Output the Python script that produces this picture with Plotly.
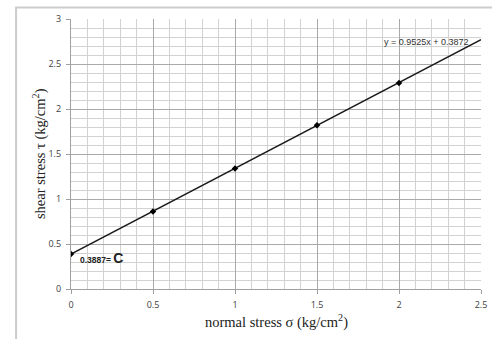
import plotly.graph_objects as go

# data
sigma = [0, 0.5, 1, 1.5, 2]
tau = [0.3887, 0.86, 1.34, 1.82, 2.29]
trend_x = [0, 2.5]
trend_y = [0.3872, 2.77]
x_ticks = [0, 0.5, 1, 1.5, 2, 2.5]
y_ticks = [0, 0.5, 1, 1.5, 2, 2.5, 3]
eq_text = "y = 0.9525x + 0.3872"

fig = go.Figure()
fig.add_trace(go.Scatter(x=trend_x, y=trend_y, mode="lines",
                         line=dict(color="#1a1a1a", width=1.4),
                         showlegend=False, hoverinfo="skip"))
fig.add_trace(go.Scatter(x=sigma, y=tau, mode="markers",
                         marker=dict(symbol="diamond", size=5, color="#000000"),
                         showlegend=False))

tickfont = dict(family="Open Sans", size=9, color="#404040")
axis_common = dict(showgrid=True, gridcolor="#a9a9a9", gridwidth=1.2,
                   zeroline=False, showline=True, linecolor="#a0a0a0", linewidth=1.2,
                   ticks="outside", ticklen=4, tickcolor="#a0a0a0", tickfont=tickfont,
                   ticklabelstandoff=3)
fig.update_xaxes(range=[0, 2.5], tickvals=x_ticks, ticktext=[f"{v:g}" for v in x_ticks],
                 minor=dict(dtick=0.1, tick0=0, showgrid=True, gridcolor="#d2d2d2", gridwidth=1),
                 **axis_common)
fig.update_yaxes(range=[0, 3], tickvals=y_ticks, ticktext=[f"{v:g}" for v in y_ticks],
                 minor=dict(dtick=0.1, tick0=0, showgrid=True, gridcolor="#d2d2d2", gridwidth=1),
                 **axis_common)

titlefont = dict(family="Liberation Serif", size=14.5, color="#222222")
fig.update_layout(
    width=492, height=339,
    margin=dict(l=71, r=11, t=19, b=50, autoexpand=False),
    paper_bgcolor="white", plot_bgcolor="white",
    shapes=[dict(type="rect", xref="paper", yref="paper",
                 x0=-0.134, y0=-0.4, x1=1.2, y1=1.0 + 11.5 / 270,
                 line=dict(color="#cccccc", width=2), layer="below")],
    annotations=[
        dict(text="normal stress σ (kg/cm<sup>2</sup>)", xref="paper", yref="paper",
             x=0.5, y=-0.122, xanchor="center", yanchor="middle", showarrow=False,
             font=titlefont),
        dict(text="shear stress τ (kg/cm<sup>2</sup>)", xref="paper", yref="paper",
             x=-0.078, y=0.5, xanchor="center", yanchor="middle", showarrow=False,
             textangle=-90, font=titlefont),
        dict(text=eq_text, x=2.44, y=2.74, xref="x", yref="y", xanchor="right",
             yanchor="middle", showarrow=False,
             font=dict(family="Liberation Sans", size=9, color="#333333")),
        dict(text="<b>0.3887=</b> <b><span style='font-size:14px'>C</span></b>",
             x=0.045, y=0.35, xref="x", yref="y", xanchor="left", yanchor="middle",
             showarrow=False,
             font=dict(family="Liberation Sans", size=8.5, color="#222222")),
    ],
)

fig.write_html("out.html",
               config={"displayModeBar": False},
               post_script="document.body.style.margin='0';"
                           "document.body.style.overflow='hidden';"
                           "document.documentElement.style.overflow='hidden';")
